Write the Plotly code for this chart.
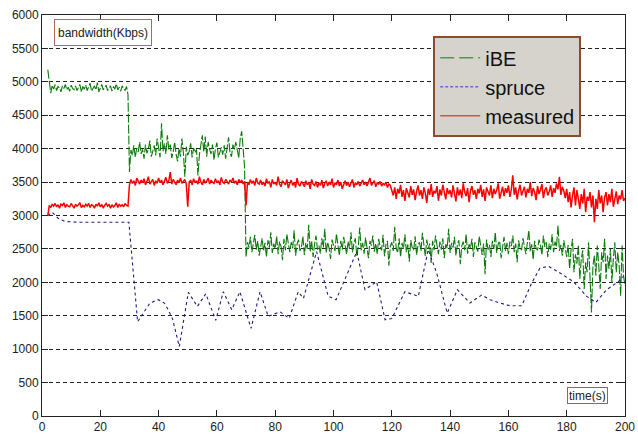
import plotly.graph_objects as go

DT = 0.5

# iBE (green) samples, 0.5 s apart, in three segments
IBE_SEG1_START = 2.0
ibe_seg1 = [
    5180, 4990, 4830, 4950, 4890, 4960, 4870, 4930, 4910, 4850,
    4940, 4900, 4960, 4880, 4920, 4860, 4950, 4900, 4880, 4940,
    4870, 4910, 4960, 4850, 4930, 4890, 4950, 4870, 4920, 4980,
    4860, 4900, 4940, 4880, 4990, 4850, 4920, 4960, 4880, 4910,
    4950, 4870, 4900, 4940, 4860, 4930, 4890, 4970, 4880, 4920,
    4860, 4940, 4900, 4870, 4930, 4810,
]
IBE_SEG2_START = 30.0
ibe_seg2 = [
    3650, 3980, 3900, 4050, 3870, 4010, 3950, 4100, 3920, 3990,
    3850, 4060, 3930, 4000, 4120, 3880, 3960, 4050, 3900, 4150,
    4010, 3870, 4380, 3960, 4080, 3920, 4200, 3990, 4060, 3860,
    3950, 4100, 3920, 3810, 4000, 3880, 4150, 3940, 3580, 4030,
    3900, 3960, 4080, 3870, 4010, 3940, 3990, 3600, 3910, 4050,
    4200, 3950, 4180, 3880, 4100, 3990, 3920, 4060, 3830, 4000,
    4090, 3870, 3960, 4020, 3910, 4050, 3850, 3980, 4170, 3930,
    3880, 4060, 3990, 4100, 3940, 3860, 4150, 4260, 4000, 3720,
]
IBE_SEG3_START = 70.0
ibe_seg3 = [
    2380, 2600, 2520, 2680, 2450, 2570, 2710, 2490, 2620, 2400,
    2560, 2660, 2470, 2590, 2380, 2630, 2520, 2750, 2440, 2580,
    2500, 2690, 2420, 2610, 2540, 2330, 2650, 2480, 2720, 2560,
    2450, 2600, 2510, 2780, 2400, 2570, 2640, 2470, 2530, 2690,
    2410, 2590, 2500, 2860, 2460, 2620, 2380, 2570, 2700, 2490,
    2550, 2430, 2660, 2520, 2800, 2440, 2600, 2510, 2350, 2640,
    2570, 2470, 2730, 2530, 2400, 2620, 2490, 2680, 2560, 2420,
    2610, 2500, 2750, 2450, 2580, 2660, 2390, 2540, 2820, 2480,
    2590, 2430, 2670, 2510, 2360, 2620, 2550, 2700, 2460, 2580,
    2420, 2650, 2530, 2480, 2710, 2390, 2570, 2620, 2250, 2540,
    2600, 2470, 2830, 2520, 2440, 2660, 2380, 2590, 2500, 2720,
    2450, 2570, 2310, 2630, 2520, 2480, 2690, 2410, 2560, 2600,
    2470, 2740, 2530, 2390, 2640, 2500, 2580, 2290, 2620, 2480,
    2700, 2550, 2420, 2610, 2490, 2660, 2360, 2570, 2510, 2800,
    2440, 2590, 2520, 2680, 2400, 2560, 2630, 2270, 2540, 2610,
    2480, 2720, 2430, 2570, 2510, 2650, 2380, 2600, 2530, 2460,
    2690, 2520, 2410, 2580, 2120, 2640, 2490, 2560, 2380, 2620,
    2500, 2750, 2440, 2570, 2620, 2360, 2530, 2680, 2470, 2590,
    2420, 2610, 2540, 2700, 2450, 2580, 2300, 2630, 2510, 2480,
    2660, 2530, 2420, 2590, 2780, 2460, 2570, 2340, 2620, 2510,
    2480, 2640, 2560, 2410, 2700, 2530, 2600, 2380, 2580, 2490,
    2720, 2450, 2610, 2530, 2850, 2470, 2560, 2400, 2630, 2510,
    2380, 2560, 2200, 2490, 2650, 2150, 2420, 2280, 2560, 2050,
    2350, 2480, 1900, 2300, 2150, 2600, 2000, 1550, 2250, 2400,
    2100, 2550, 2250, 1900, 2450, 2300, 2650, 2050, 2400, 2200,
    2500, 2000, 2350, 2600, 2150, 2450, 2250, 1800, 2550, 2100,
    1950,
]

# measured (red) samples, 0.5 s apart, in two segments
MEAS_SEG1_START = 2.0
meas_seg1 = [
    3000, 3150, 3120, 3170, 3140, 3180, 3130, 3160, 3110, 3170,
    3150, 3190, 3120, 3160, 3140, 3130, 3180, 3150, 3110, 3170,
    3140, 3160, 3190, 3120, 3150, 3130, 3170, 3140, 3180, 3120,
    3160, 3150, 3110, 3170, 3140, 3190, 3130, 3160, 3120, 3150,
    3180, 3140, 3170, 3110, 3160, 3130, 3150, 3190, 3120, 3170,
    3140, 3160, 3130, 3180, 3150, 3140,
]
MEAS_SEG2_START = 30.0
meas_seg2 = [
    3460, 3540, 3480, 3520, 3450, 3560, 3500, 3470, 3530, 3490,
    3550, 3460, 3510, 3580, 3470, 3500, 3540, 3450, 3520, 3480,
    3560, 3490, 3530, 3460, 3510, 3570, 3480, 3520, 3650, 3470,
    3540, 3500, 3460, 3530, 3490, 3560, 3480, 3510, 3540, 3470,
    3130, 3500, 3530, 3460, 3550, 3490, 3520, 3470, 3580, 3500,
    3460, 3540, 3490, 3510, 3560, 3470, 3530, 3500, 3480, 3550,
    3490, 3520, 3460, 3570, 3500, 3480, 3540, 3510, 3470, 3530,
    3500, 3560, 3480, 3520, 3460, 3540, 3490, 3530, 3470, 3510,
    3150, 3500, 3460, 3540, 3480, 3520, 3450, 3560, 3490, 3470,
    3530, 3460, 3500, 3440, 3550, 3480, 3510, 3420, 3540, 3470,
    3500, 3450, 3580, 3470, 3430, 3520, 3490, 3460, 3540, 3410,
    3480, 3530, 3450, 3500, 3420, 3560, 3470, 3440, 3510, 3480,
    3430, 3520, 3460, 3500, 3400, 3540, 3470, 3450, 3510, 3420,
    3490, 3450, 3530, 3410, 3480, 3520, 3440, 3500, 3460, 3550,
    3420, 3490, 3460, 3530, 3440, 3500, 3400, 3470, 3520, 3450,
    3500, 3430, 3480, 3540, 3420, 3490, 3460, 3510, 3440, 3480,
    3530, 3460, 3500, 3440, 3490, 3560, 3450, 3480, 3520, 3430,
    3490, 3470, 3510, 3440, 3480, 3460, 3500, 3420, 3470, 3450,
    3380, 3300, 3420, 3250, 3400, 3330, 3460, 3280, 3380, 3220,
    3410, 3340, 3270, 3440, 3310, 3390, 3230, 3360, 3450, 3300,
    3380, 3250, 3420, 3340, 3190, 3400, 3310, 3470, 3280, 3370,
    3330, 3440, 3220, 3390, 3300, 3460, 3350, 3240, 3410, 3320,
    3380, 3270, 3450, 3340, 3210, 3420, 3300, 3390, 3260, 3480,
    3350, 3290, 3410, 3200, 3370, 3440, 3310, 3380, 3250, 3400,
    3330, 3460, 3280, 3390, 3220, 3420, 3350, 3300, 3450, 3260,
    3400, 3320, 3380, 3480, 3250, 3360, 3430, 3290, 3410, 3340,
    3450, 3280, 3390, 3600, 3310, 3420, 3240, 3370, 3460, 3300,
    3380, 3430, 3270, 3400, 3340, 3500, 3290, 3410, 3350, 3230,
    3440, 3320, 3390, 3470, 3260, 3380, 3420, 3300, 3360, 3450,
    3280, 3410, 3340, 3480, 3390, 3580, 3310, 3430, 3370, 3260,
    3400, 3200, 3350, 3120, 3300, 3420, 3150, 3380, 3250, 3100,
    3320, 3180, 3400, 3050, 3280, 3220, 3350, 3120, 3300, 2900,
    3250, 3100, 3380, 3180, 3300, 3050, 3270, 3350, 3150, 3320,
    3200, 3400, 3130, 3280, 3360, 3170, 3300, 3240, 3380, 3220,
    3260,
]

# spruce (blue dotted)
spruce_t = [2.0, 3.5, 5.5, 8.0, 12.0, 16.0, 20.0, 25.0, 29.8,
            32.8, 34.8, 37.0, 39.9, 42.0, 43.3, 44.8, 47.1,
            50.2, 53.3, 56.2, 59.6, 62.2, 65.1, 67.9, 71.7,
            74.8, 77.6, 81.6, 84.8, 87.9, 89.7, 94.2, 98.2,
            100.9, 108.0, 110.8, 114.8, 117.7, 120.0, 124.5, 129.1,
            132.5, 135.4, 139.0, 142.5, 146.8, 150.8, 153.7, 157.1,
            160.5, 164.6, 168.0, 170.8, 173.7, 177.7, 182.3, 186.9,
            190.0, 193.7, 197.7, 199.5]
spruce_v = [3000, 3050, 2960, 2910, 2900, 2900, 2910, 2900, 2900,
            1410, 1540, 1690, 1740, 1690, 1590, 1450, 1040,
            1850, 1640, 1830, 1430, 1860, 1590, 1860, 1310,
            1860, 1490, 1560, 1460, 1860, 1760, 2460, 1790,
            1740, 2460, 1890, 2010, 1440, 1460, 1860, 1790,
            2490, 2140, 1540, 1890, 1690, 1810, 1740, 1690,
            1650, 1650, 1990, 2210, 2240, 2140, 2010, 1790,
            1700, 1890, 2010, 2090]

x_ticks = [0, 20, 40, 60, 80, 100, 120, 140, 160, 180, 200]
y_ticks = [0, 500, 1000, 1500, 2000, 2500, 3000, 3500, 4000, 4500, 5000, 5500, 6000]


def series(segments):
    t, v = [], []
    for start, vals in segments:
        t.extend(start + DT * i for i in range(len(vals)))
        v.extend(vals)
    return t, v


ibe_t, ibe_v = series([(IBE_SEG1_START, ibe_seg1), (IBE_SEG2_START, ibe_seg2),
                       (IBE_SEG3_START, ibe_seg3)])
meas_t, meas_v = series([(MEAS_SEG1_START, meas_seg1), (MEAS_SEG2_START, meas_seg2)])

GREEN = "#0b7a0b"
BLUE = "#1e1e86"
RED = "#ff0000"

fig = go.Figure()
fig.add_trace(go.Scatter(x=ibe_t, y=ibe_v, mode="lines", showlegend=False,
                         line=dict(color=GREEN, width=1.1, dash="9px,2px")))
fig.add_trace(go.Scatter(x=spruce_t, y=spruce_v, mode="lines", showlegend=False,
                         line=dict(color=BLUE, width=1.1, dash="3px,3px")))
fig.add_trace(go.Scatter(x=meas_t, y=meas_v, mode="lines", showlegend=False,
                         line=dict(color=RED, width=1.5)))

# legend entries
fig.add_trace(go.Scatter(x=[None], y=[None], mode="lines", name="iBE", legendgroup="a",
                         line=dict(color="#4c9c4c", width=1.5, dash="14px,5px")))
fig.add_trace(go.Scatter(x=[None], y=[None], mode="lines", name="spruce", legendgroup="b",
                         line=dict(color="#6a6acc", width=1.5, dash="3px,2px")))
fig.add_trace(go.Scatter(x=[None], y=[None], mode="lines", name="measured", legendgroup="c",
                         line=dict(color="#d45050", width=1.5)))

axis_common = dict(showline=True, linecolor="#222222", linewidth=1, mirror="ticks",
                   ticks="inside", ticklen=6, tickcolor="#222222", zeroline=False,
                   automargin=False,
                   tickfont=dict(family="Liberation Sans, Arial", size=12, color="#222222"))

fig.update_xaxes(range=[0, 200], tickvals=x_ticks, showgrid=False, **axis_common)
fig.update_yaxes(range=[0, 6000], tickvals=y_ticks, showgrid=True, gridcolor="#222222",
                 gridwidth=1, griddash="4px,3px", **axis_common)

fig.update_layout(
    width=638, height=437,
    margin=dict(l=42, r=13, t=15, b=21, autoexpand=False),
    paper_bgcolor="white", plot_bgcolor="white",
    font=dict(family="Liberation Sans, Arial", color="#111111"),
    legend=dict(x=0.671, y=0.947, xanchor="left", yanchor="top",
                bgcolor="#d6d3cc", bordercolor="#8e4a2c", borderwidth=2,
                font=dict(size=20, color="#111111"), tracegroupgap=0,
                itemwidth=40),
    annotations=[
        dict(text="bandwidth(Kbps)", xref="paper", yref="paper", x=0.1046, y=0.956,
             xanchor="center", yanchor="middle", showarrow=False,
             font=dict(size=12, color="#222222"), width=90, height=19,
             bordercolor="#b06a55", borderwidth=1, borderpad=3, bgcolor="white"),
        dict(text="time(s)", xref="paper", yref="paper", x=0.935, y=0.052,
             xanchor="center", yanchor="middle", showarrow=False,
             font=dict(size=12, color="#222222"), height=13,
             bordercolor="#a0604a", borderwidth=1, borderpad=1, bgcolor="white"),
    ],
)

fig.write_html("out.html", config={"displayModeBar": False},
               post_script="document.body.style.margin='0';")
